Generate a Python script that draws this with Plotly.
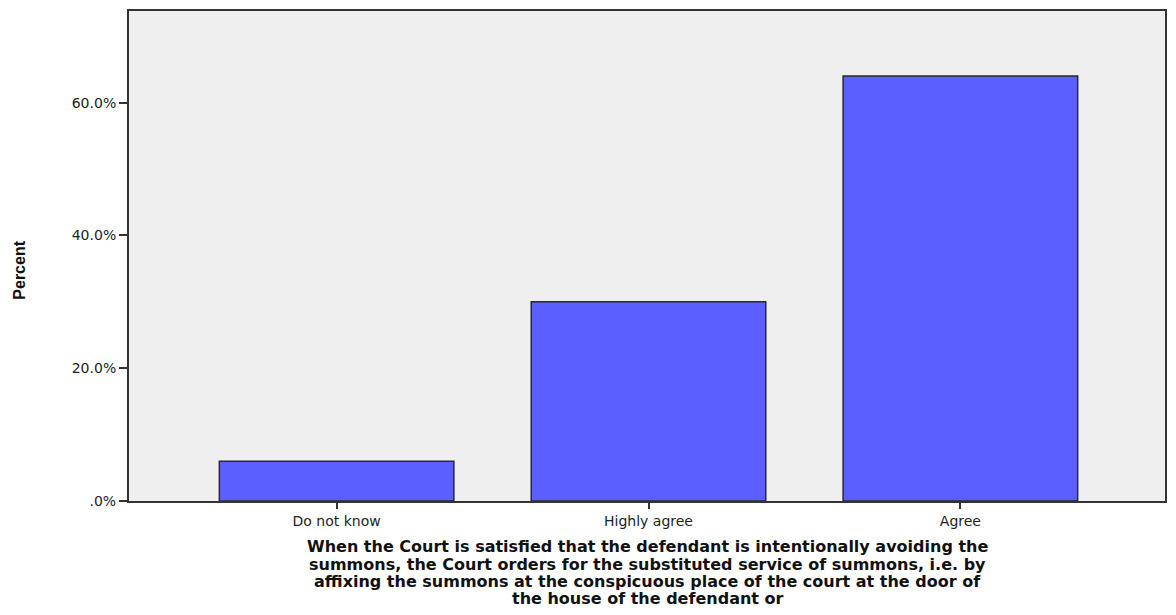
import plotly.graph_objects as go

categories = ["Do not know", "Highly agree", "Agree"]
percents = [6.0, 30.0, 64.0]
tick_vals = [0, 20, 40, 60]
tick_text = [".0%", "20.0%", "40.0%", "60.0%"]
title_lines = [
    "When the Court is satisfied that the defendant is intentionally avoiding the",
    "summons, the Court orders for the substituted service of summons, i.e. by",
    "affixing the summons at the conspicuous place of the court at the door of",
    "the house of the defendant or",
]

# page body has an 8px margin; figure occupies page x 8..1168, y 8..607
W, H = 1160, 599
ML, MR, MT, MB = 121, 1, 2, 106
plot_w = W - ML - MR
plot_h = H - MT - MB
plot_bottom_page = 8 + H - MB

fig = go.Figure()
fig.add_trace(go.Bar(
    x=categories, y=percents, width=0.752,
    marker=dict(color="#5b5fff", line=dict(color="#2a2a2a", width=1.5)),
))

fig.update_layout(
    width=W, height=H,
    margin=dict(l=ML, r=MR, t=MT, b=MB),
    paper_bgcolor="white", plot_bgcolor="#efefef",
    showlegend=False,
    font=dict(family="DejaVu Sans, Liberation Sans, sans-serif", size=14, color="#222"),
)
fig.update_xaxes(
    type="category", range=[-0.6656, 2.656],
    showline=True, linecolor="#333", linewidth=2, mirror=True,
    ticks="outside", ticklen=6, tickcolor="#333", tickwidth=2,
    showgrid=False, tickfont=dict(size=14, color="#222"),
)
fig.update_yaxes(
    range=[0, 73.8], tickvals=tick_vals, ticktext=tick_text,
    showline=True, linecolor="#333", linewidth=2, mirror=True,
    ticks="outside", ticklen=8, tickcolor="#333", tickwidth=2,
    showgrid=False, zeroline=False, tickfont=dict(size=14, color="#222"),
)

fig.add_annotation(
    text="<b>Percent</b>", textangle=-90, xref="paper", yref="paper",
    x=(19 - 8 - ML) / plot_w, y=(plot_bottom_page - 270) / plot_h,
    xanchor="center", yanchor="middle", showarrow=False,
    font=dict(family="Liberation Sans, Arial, sans-serif", size=16, color="#111"),
)

line_y = [547, 564.5, 582, 599]
for txt, py in zip(title_lines, line_y):
    fig.add_annotation(
        text="<b>" + txt + "</b>", xref="paper", yref="paper",
        x=(649 - 8 - ML) / plot_w, y=(plot_bottom_page - py) / plot_h,
        xanchor="center", yanchor="middle", showarrow=False,
        font=dict(family="DejaVu Sans, Liberation Sans, sans-serif", size=16, color="#111"),
    )

fig.write_html("out.html")
